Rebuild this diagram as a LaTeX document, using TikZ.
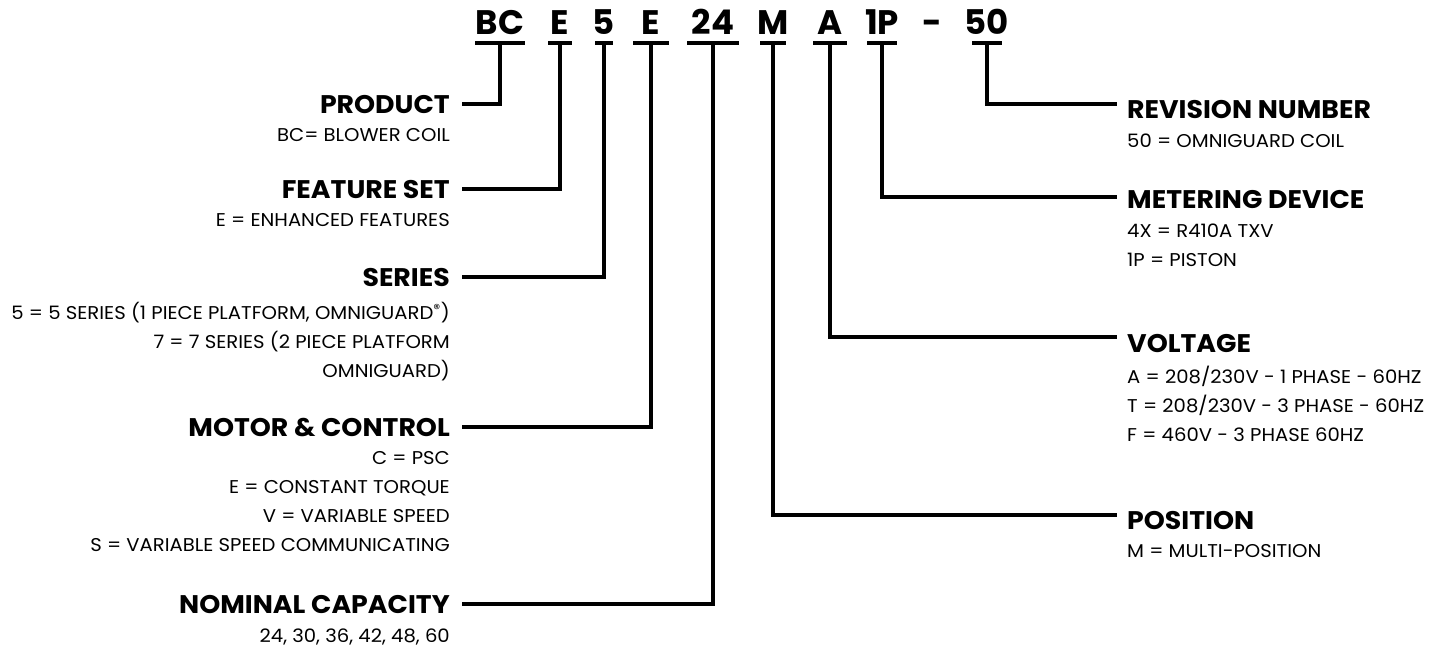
\documentclass[tikz,border=0pt]{standalone}
\usepackage{fontspec}
\setmainfont{Poppins}
\usetikzlibrary{positioning,calc}

\tikzset{
    code/.style={font=\fontsize{34}{34}\selectfont\bfseries, inner sep=0pt, anchor=base},
    head/.style={font=\fontsize{25.5}{26}\selectfont\bfseries\addfontfeatures{FakeStretch=1.05}, inner sep=0pt},
    desc/.style={font=\fontsize{18.5}{29}\selectfont\addfontfeatures{FakeStretch=1.06}, inner sep=0pt},
    lead/.style={line width=4pt, line join=miter},
}

\begin{document}
\begin{tikzpicture}[x=1pt, y=-1pt]
    \useasboundingbox[fill=white] (0,0) rectangle (1430,649);

    % model number with underbars
    \foreach \nm/\txt/\x/\w in {bc/BC/500/25, fs/E/560/12, sr/5/604/9, mc/E/651/18, cap/24/713/26, pos/M/773/13, vol/A/830/17, met/1P/882/15, rev/50/987/15} {
        \node[code] (\nm) at (\x,34) {\txt};
        \coordinate (\nm-b) at (\x,43);
        \draw[lead] ([xshift=-\w pt]\nm-b) -- ([xshift=\w pt]\nm-b);
    }
    \node[code] (dash) at (932,34) {-};

    % left column
    \node[head, anchor=base east] (hprod) at (450,113) {PRODUCT};
    \node[desc, align=right, below left=15pt and 0pt of hprod.south east] (dprod) {BC= BLOWER COIL};

    \node[head, anchor=base east] (hfeat) at (450,198) {FEATURE SET};
    \node[desc, align=right, below left=15pt and 0pt of hfeat.south east] (dfeat) {E = ENHANCED FEATURES};

    \node[head, anchor=base east] (hser) at (450,286) {SERIES};
    \node[desc, align=right, below left=16pt and 0pt of hser.south east] (dser) {5 = 5 SERIES (1 PIECE PLATFORM, OMNIGUARD\textsuperscript{®})\\ 7 = 7 SERIES (2 PIECE PLATFORM\\ OMNIGUARD)};

    \node[head, anchor=base east] (hmot) at (450,436) {MOTOR \& CONTROL};
    \node[desc, align=right, below left=15pt and 0pt of hmot.south east] (dmot) {C = PSC\\ E = CONSTANT TORQUE\\ V = VARIABLE SPEED\\ S = VARIABLE SPEED COMMUNICATING};

    \node[head, anchor=base east] (hcap) at (450,613) {NOMINAL CAPACITY};
    \node[desc, align=right, below left=15pt and 0pt of hcap.south east] (dcap) {24, 30, 36, 42, 48, 60};

    % right column
    \node[head, anchor=base west] (hrev) at (1127,118) {REVISION NUMBER};
    \node[desc, align=left, below right=15pt and 0pt of hrev.south west] (drev) {50 = OMNIGUARD COIL};

    \node[head, anchor=base west] (hmet) at (1127,208) {METERING DEVICE};
    \node[desc, align=left, below right=15pt and 0pt of hmet.south west] (dmet) {4X = R410A TXV\\ 1P = PISTON};

    \node[head, anchor=base west] (hvol) at (1127,352) {VOLTAGE};
    \node[desc, align=left, below right=13pt and 0pt of hvol.south west] (dvol) {A = 208/230V - 1 PHASE - 60HZ\\ T = 208/230V - 3 PHASE - 60HZ\\ F = 460V - 3 PHASE 60HZ};

    \node[head, anchor=base west] (hpos) at (1127,529) {POSITION};
    \node[desc, align=left, below right=15pt and 0pt of hpos.south west] (dpos) {M = MULTI-POSITION};

    % leaders
    \draw[lead] (bc-b) |- ([xshift=12pt]hprod.east);
    \draw[lead] (fs-b) |- ([xshift=12pt]hfeat.east);
    \draw[lead] (sr-b) |- ([xshift=12pt]hser.east);
    \draw[lead] (mc-b) |- ([xshift=12pt]hmot.east);
    \draw[lead] (cap-b) |- ([xshift=12pt]hcap.east);
    \draw[lead] (rev-b) |- ([xshift=-10pt, yshift=-4pt]hrev.north west);
    \draw[lead] (met-b) |- ([xshift=-10pt, yshift=-7pt]hmet.north west);
    \draw[lead] (vol-b) |- ([xshift=-10pt, yshift=-3pt]hvol.north west);
    \draw[lead] (pos-b) |- ([xshift=-10pt, yshift=-4pt]hpos.north west);
\end{tikzpicture}
\end{document}
